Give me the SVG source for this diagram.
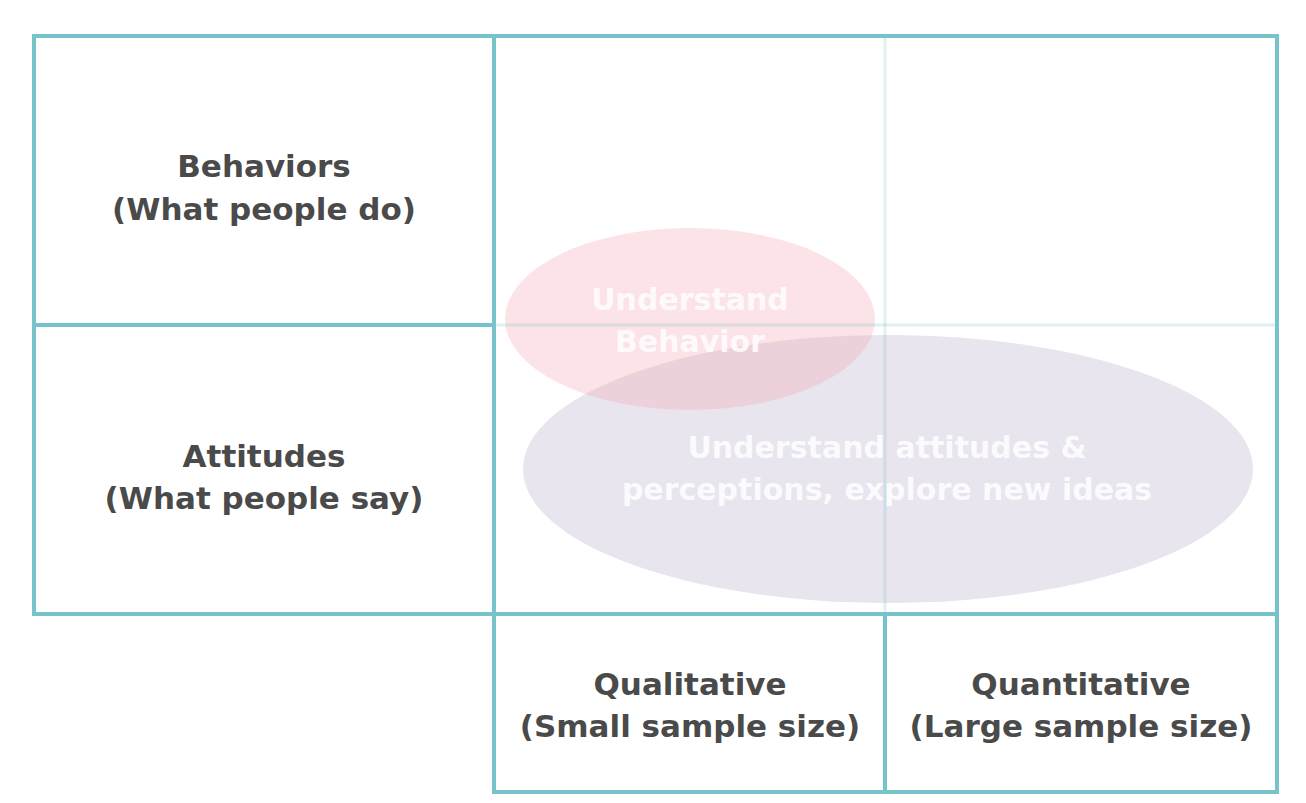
<svg xmlns="http://www.w3.org/2000/svg" width="1306" height="803" viewBox="0 0 1306 803">
  <style>
    .lbl { font-family: "DejaVu Sans", "Liberation Sans", sans-serif; font-weight: bold; font-size: 31px; fill: #4a4a4a; text-anchor: middle; }
    .elbl { font-family: "DejaVu Sans", "Liberation Sans", sans-serif; font-weight: bold; font-size: 30px; fill: #ffffff; fill-opacity: 0.85; text-anchor: middle; }
    .grid { stroke: #77c3cb; stroke-width: 4; fill: none; }
    .faint { stroke: #7cc4cc; stroke-width: 3; stroke-opacity: 0.25; fill: none; }
  </style>
  <rect x="0" y="0" width="1306" height="803" fill="#ffffff"/>

  <g id="ellipse-attitudes">
    <ellipse cx="888" cy="469" rx="365" ry="134" fill="#e8e5ee"/>
    <text class="elbl" x="887" y="458">Understand attitudes &amp;</text>
    <text class="elbl" x="887" y="500">perceptions, explore new ideas</text>
  </g>
  <g id="ellipse-behavior">
    <ellipse cx="690" cy="319" rx="185" ry="91" fill="#f5a1af" fill-opacity="0.3"/>
    <text class="elbl" x="690" y="310">Understand</text>
    <text class="elbl" x="690" y="352">Behavior</text>
  </g>

  <g id="grid">
    <line class="faint" x1="494" y1="325" x2="1277" y2="325"/>
    <line class="faint" x1="885" y1="36" x2="885" y2="614"/>
    <rect class="grid" x="34" y="36" width="1243" height="578"/>
    <line class="grid" x1="34" y1="325" x2="494" y2="325"/>
    <line class="grid" x1="494" y1="36" x2="494" y2="792"/>
    <rect class="grid" x="494" y="614" width="783" height="178"/>
    <line class="grid" x1="885" y1="614" x2="885" y2="792"/>
  </g>

  <g id="cell-behaviors">
    <text class="lbl" x="264" y="177">Behaviors</text>
    <text class="lbl" x="264" y="220">(What people do)</text>
  </g>
  <g id="cell-attitudes">
    <text class="lbl" x="264" y="467">Attitudes</text>
    <text class="lbl" x="264" y="509">(What people say)</text>
  </g>
  <g id="cell-qualitative">
    <text class="lbl" x="690" y="695">Qualitative</text>
    <text class="lbl" x="690" y="737">(Small sample size)</text>
  </g>
  <g id="cell-quantitative">
    <text class="lbl" x="1081" y="695">Quantitative</text>
    <text class="lbl" x="1081" y="737">(Large sample size)</text>
  </g>
  <g id="connectors"/>
</svg>
